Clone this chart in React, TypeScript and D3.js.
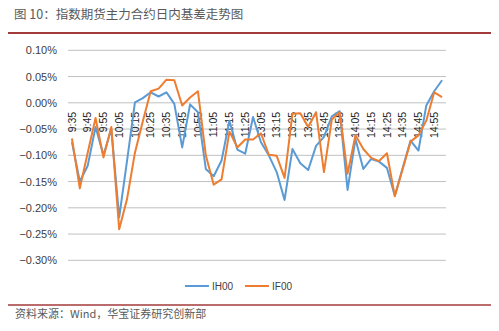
import React from "react";
import * as d3 from "d3";

const times = [
  "9:35","9:40","9:45","9:50","9:55","10:00","10:05","10:10","10:15","10:20","10:25","10:30",
  "10:35","10:40","10:45","10:50","10:55","11:00","11:05","11:10","11:15","11:20","11:25","11:30",
  "13:05","13:10","13:15","13:20","13:25","13:30","13:35","13:40","13:45","13:50","13:55","14:00",
  "14:05","14:10","14:15","14:20","14:25","14:30","14:35","14:40","14:45","14:50","14:55","15:00",
];

const ih00 = [
  -0.075, -0.15, -0.12, -0.046, -0.1, -0.05, -0.218, -0.11, 0.001, 0.009, 0.02, 0.012,
  0.02, -0.002, -0.085, -0.003, -0.018, -0.126, -0.14, -0.11, -0.034, -0.089, -0.097, -0.027,
  -0.075, -0.1, -0.132, -0.185, -0.088, -0.115, -0.128, -0.082, -0.065, -0.026, -0.016, -0.166,
  -0.069, -0.126, -0.107, -0.112, -0.124, -0.177, -0.124, -0.072, -0.091, -0.005, 0.022, 0.043,
];

const if00 = [
  -0.068, -0.163, -0.095, -0.029, -0.104, -0.046, -0.241, -0.183, -0.095, -0.035, 0.022, 0.027,
  0.044, 0.043, -0.005, 0.01, 0.022, -0.1, -0.156, -0.146, -0.055, -0.085, -0.07, -0.07,
  -0.058, -0.099, -0.101, -0.143, -0.021, -0.02, -0.046, -0.018, -0.132, -0.032, -0.018, -0.135,
  -0.062, -0.088, -0.105, -0.111, -0.096, -0.178, -0.126, -0.074, -0.062, -0.034, 0.02, 0.011,
];

const yTicks = [0.1, 0.05, 0, -0.05, -0.1, -0.15, -0.2, -0.25, -0.3];
const seriesNames = ["IH00", "IF00"];
const colors = ["#5b9bd5", "#ed7d31"];
const titleText = "图 10：指数期货主力合约日内基差走势图";
const sourceText = "资料来源：Wind，华宝证券研究创新部";

export default function App() {
  const W = 499, H = 331;
  const x = d3.scaleBand<string>().domain(times).range([68, 446]).paddingInner(0).paddingOuter(0);
  const cx = (t: string) => (x(t) as number) + x.bandwidth() / 2;
  const y = d3.scaleLinear().domain([-0.3, 0.1]).range([260.3, 50.3]);
  const line = d3.line<number>().x((_, i) => cx(times[i])).y((d) => y(d));
  const font = "Arial, 'Liberation Sans', sans-serif";
  const cjk = "'Noto Sans CJK SC', sans-serif";
  const series = [ih00, if00];

  return (
    <svg width={W} height={H} style={{ position: "absolute", left: 0, top: 0, background: "#fff" }}>
      <rect width={W} height={H} fill="#fff" />
      <text x={14} y={19} fontFamily={cjk} fontSize={12.5} fill="#595959">{titleText}</text>
      <line x1={8} x2={491} y1={33} y2={33} stroke="#a33a3a" strokeWidth={2} />

      {yTicks.map((t) => (
        <g key={t}>
          <line x1={68} x2={446} y1={y(t)} y2={y(t)} stroke="#c0c0c0" strokeWidth={1} />
          <text x={57} y={y(t) + 4} textAnchor="end" fontFamily={font} fontSize={11} fill="#404040">
            {d3.format(".2f")(t) + "%"}
          </text>
        </g>
      ))}

      {times.map((t, i) =>
        i % 2 === 0 ? (
          <text
            key={t}
            transform={`translate(${cx(t) + 3.7},${y(0) + 9}) rotate(-90)`}
            textAnchor="end"
            fontFamily={font}
            fontSize={10.5}
            fill="#262626"
          >
            {t}
          </text>
        ) : null
      )}

      {series.map((s, k) => (
        <path key={k} d={line(s) as string} fill="none" stroke={colors[k]} strokeWidth={2} strokeLinejoin="round" />
      ))}

      {seriesNames.map((n, k) => {
        const lx = k === 0 ? 185 : 245;
        return (
          <g key={n}>
            <line x1={lx} x2={lx + 24} y1={286} y2={286} stroke={colors[k]} strokeWidth={2} />
            <text x={lx + 27} y={290} fontFamily={font} fontSize={10} fill="#404040">{n}</text>
          </g>
        );
      })}

      <line x1={8} x2={491} y1={305} y2={305} stroke="#a33a3a" strokeWidth={1.5} />
      <text x={15} y={318} fontFamily={cjk} fontSize={11} fill="#595959">{sourceText}</text>
    </svg>
  );
}
